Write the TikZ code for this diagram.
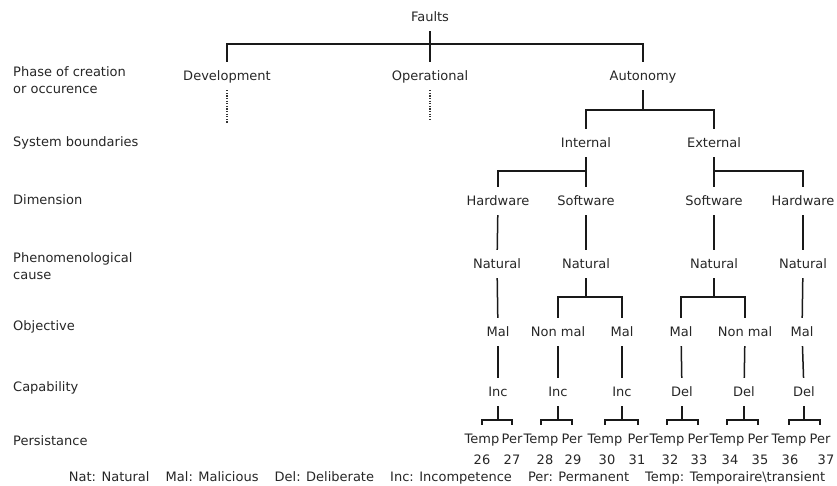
\documentclass[tikz,border=0pt]{standalone}
\usepackage{fontspec}
\setmainfont{DejaVu Sans}
\begin{document}
\begin{tikzpicture}[x=1pt,y=-1pt,
  every node/.style={font=\fontsize{13}{15}\selectfont, text=black!85},
  tn/.style={inner sep=0pt, text height=9pt, text depth=0pt, minimum height=28pt, minimum width=20pt},
  lbl/.style={anchor=west, inner sep=0pt, text height=9pt, text depth=0pt},
  lbltwo/.style={anchor=west, inner sep=0pt, align=left, font=\fontsize{13}{17}\selectfont},
  num/.style={inner sep=0pt, text height=9pt, text depth=0pt},
  edge/.style={line width=1.5pt, draw=black!90},
  dots/.style={line width=1.3pt, draw=black!80, dash pattern=on 1.1pt off 1.5pt}]
\useasboundingbox (0,0) rectangle (837,485);

% level captions on the left
\node[lbltwo] (capPhase) at (13,80) {Phase of creation\\or occurence};
\node[lbl] (capBound) at (13,142) {System boundaries};
\node[lbl] (capDim) at (13,200) {Dimension};
\node[lbltwo] (capCause) at (13,266.5) {Phenomenological\\cause};
\node[lbl] (capObj) at (13,326) {Objective};
\node[lbl] (capCap) at (13,387) {Capability};
\node[lbl] (capPers) at (13,441) {Persistance};

% root and phase
\node[tn] (faults) at (430,17) {Faults};
\node[tn] (dev) at (227,76) {Development};
\node[tn] (op) at (430,76) {Operational};
\node[tn] (aut) at (643,76) {Autonomy};

% system boundaries
\node[tn] (int) at (586,143) {Internal};
\node[tn] (ext) at (714,143) {External};

% dimension
\node[tn] (hwI) at (498,201) {Hardware};
\node[tn] (swI) at (586,201) {Software};
\node[tn] (swE) at (714,201) {Software};
\node[tn] (hwE) at (803,201) {Hardware};

% phenomenological cause
\node[tn] (natA) at (497,264) {Natural};
\node[tn] (natB) at (586,264) {Natural};
\node[tn] (natC) at (714,264) {Natural};
\node[tn] (natD) at (803,264) {Natural};

% objective
\node[tn] (malA) at (498,332) {Mal};
\node[tn] (nmB) at (558,332) {Non mal};
\node[tn] (malB) at (622,332) {Mal};
\node[tn] (malC) at (681,332) {Mal};
\node[tn] (nmC) at (745,332) {Non mal};
\node[tn] (malD) at (802,332) {Mal};

% capability
\node[tn] (incA) at (498,392) {Inc};
\node[tn] (incB) at (558,392) {Inc};
\node[tn] (incC) at (622,392) {Inc};
\node[tn] (delA) at (682,392) {Del};
\node[tn] (delB) at (744,392) {Del};
\node[tn] (delC) at (804,392) {Del};

% persistence
\node[tn] (t1) at (482,439) {Temp};
\node[tn] (p1) at (512,439) {Per};
\node[tn] (t2) at (541,439) {Temp};
\node[tn] (p2) at (572,439) {Per};
\node[tn] (t3) at (605,439) {Temp};
\node[tn] (p3) at (638,439) {Per};
\node[tn] (t4) at (667,439) {Temp};
\node[tn] (p4) at (698,439) {Per};
\node[tn] (t5) at (727,439) {Temp};
\node[tn] (p5) at (758,439) {Per};
\node[tn] (t6) at (789,439) {Temp};
\node[tn] (p6) at (820,439) {Per};

% class numbers
\node[num] (n26) at (482,460) {26};
\node[num] (n27) at (512,460) {27};
\node[num] (n28) at (545,460) {28};
\node[num] (n29) at (573,460) {29};
\node[num] (n30) at (607,460) {30};
\node[num] (n31) at (637,460) {31};
\node[num] (n32) at (670,460) {32};
\node[num] (n33) at (699,460) {33};
\node[num] (n34) at (730,460) {34};
\node[num] (n35) at (760,460) {35};
\node[num] (n36) at (790,460) {36};
\node[num] (n37) at (826,460) {37};

% abbreviations
\node[num] (legend) at (447,477) {Nat: Natural\hspace{12pt} Mal: Malicious\hspace{12pt} Del: Deliberate\hspace{12pt} Inc: Incompetence\hspace{12pt} Per: Permanent\hspace{12pt} Temp: Temporaire\textbackslash transient};

% junction points of the branch bars
\coordinate (j0) at (430,44);
\coordinate (j1) at (643,110);
\coordinate (j2) at (586,171);
\coordinate (j3) at (714,171);
\coordinate (j4) at (586,297);
\coordinate (j5) at (714,297);
\coordinate (k1) at (498,420);
\coordinate (k2) at (558,420);
\coordinate (k3) at (622,420);
\coordinate (k4) at (682,420);
\coordinate (k5) at (744,420);
\coordinate (k6) at (804,420);
\coordinate (devEnd) at (227,124);
\coordinate (opEnd) at (430,119);

% branches
\draw[edge] (faults) -- (op);
\draw[edge] (dev.north) |- (j0) -| (aut.north);
\draw[dots] (dev.south) -- (devEnd);
\draw[dots] (op.south) -- (opEnd);

\draw[edge] (aut) -- (j1);
\draw[edge] (int.north) |- (j1) -| (ext.north);

\draw[edge] (int) -- (swI);
\draw[edge] (hwI.north) |- (j2);
\draw[edge] (ext) -- (swE);
\draw[edge] (hwE.north) |- (j3);

\draw[edge] (hwI) -- (natA);
\draw[edge] (swI) -- (natB);
\draw[edge] (swE) -- (natC);
\draw[edge] (hwE) -- (natD);

\draw[edge] (natA) -- (malA);
\draw[edge] (natB) -- (j4);
\draw[edge] (nmB.north) |- (j4) -| (malB.north);
\draw[edge] (natC) -- (j5);
\draw[edge] (malC.north) |- (j5) -| (nmC.north);
\draw[edge] (natD) -- (malD);

\draw[edge] (malA) -- (incA);
\draw[edge] (nmB) -- (incB);
\draw[edge] (malB) -- (incC);
\draw[edge] (malC) -- (delA);
\draw[edge] (nmC) -- (delB);
\draw[edge] (malD) -- (delC);

\draw[edge] (incA) -- (k1);
\draw[edge] (t1.north) |- (k1) -| (p1.north);
\draw[edge] (incB) -- (k2);
\draw[edge] (t2.north) |- (k2) -| (p2.north);
\draw[edge] (incC) -- (k3);
\draw[edge] (t3.north) |- (k3) -| (p3.north);
\draw[edge] (delA) -- (k4);
\draw[edge] (t4.north) |- (k4) -| (p4.north);
\draw[edge] (delB) -- (k5);
\draw[edge] (t5.north) |- (k5) -| (p5.north);
\draw[edge] (delC) -- (k6);
\draw[edge] (t6.north) |- (k6) -| (p6.north);
\end{tikzpicture}
\end{document}
